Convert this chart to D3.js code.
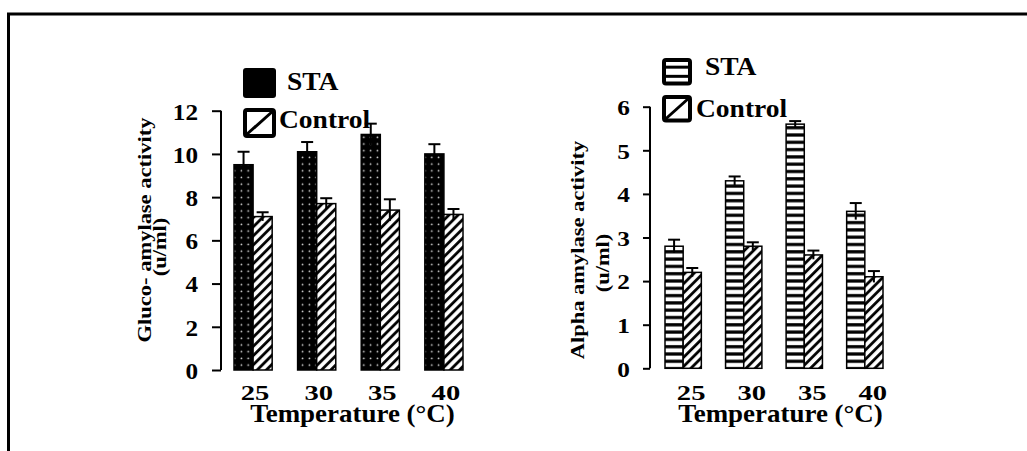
<!DOCTYPE html>
<html>
<head>
<meta charset="utf-8">
<script src="https://cdn.jsdelivr.net/npm/d3@7"></script>
<style>
  body { margin: 0; background: #fff; }
  text { font-family: "Liberation Serif", "Times New Roman", serif; font-weight: bold; fill: #000; }
</style>
</head>
<body>
<div id="figure"><svg></svg></div>
<script>
// Data
var temps = ["25", "30", "35", "40"];
var glucoSTA = [9.5, 10.1, 10.9, 10.0];
var glucoSTAErr = [0.6, 0.45, 0.5, 0.45];
var glucoControl = [7.1, 7.7, 7.4, 7.2];
var glucoControlErr = [0.2, 0.25, 0.5, 0.25];
var alphaSTA = [2.8, 4.3, 5.6, 3.6];
var alphaSTAErr = [0.15, 0.1, 0.07, 0.19];
var alphaControl = [2.2, 2.8, 2.6, 2.1];
var alphaControlErr = [0.1, 0.09, 0.1, 0.13];
var glucoTicks = [0, 2, 4, 6, 8, 10, 12];
var alphaTicks = [0, 1, 2, 3, 4, 5, 6];
var seriesNames = ["STA", "Control"];

var width = 1027;
var height = 451;
var svg = d3.select("#figure").select("svg").attr("width", width).attr("height", height);

/* ******** Patterns ******** */
var defs = svg.append("defs");
// black with white dots
var dots = defs.append("pattern").attr("id", "dots").attr("patternUnits", "userSpaceOnUse")
    .attr("width", 6.8).attr("height", 6.7);
dots.append("rect").attr("width", 6.8).attr("height", 6.7).attr("fill", "#000");
dots.append("circle").attr("cx", 3.4).attr("cy", 3.3).attr("r", 0.85).attr("fill", "#ddd");
// diagonal hatch "/"
var hatch = defs.append("pattern").attr("id", "hatch").attr("patternUnits", "userSpaceOnUse")
    .attr("width", 6.5).attr("height", 6.5).attr("patternTransform", "rotate(45)");
hatch.append("rect").attr("width", 6.5).attr("height", 6.5).attr("fill", "#fff");
hatch.append("line").attr("x1", 1.5).attr("y1", 0).attr("x2", 1.5).attr("y2", 6.5)
    .attr("stroke", "#000").attr("stroke-width", 2.8);
// horizontal stripes
var stripes = defs.append("pattern").attr("id", "stripes").attr("patternUnits", "userSpaceOnUse")
    .attr("width", 10).attr("height", 7.3);
stripes.append("rect").attr("width", 10).attr("height", 7.3).attr("fill", "#fff");
stripes.append("rect").attr("y", 2).attr("width", 10).attr("height", 3.2).attr("fill", "#000");

// frame
svg.append("path").attr("d", "M8.5," + height + "V14H" + width)
    .attr("fill", "none").attr("stroke", "#000").attr("stroke-width", 3);

/* ******** Charts ******** */
drawChart({
  sta: glucoSTA, staErr: glucoSTAErr, ctl: glucoControl, ctlErr: glucoControlErr,
  ticks: glucoTicks, axisX: 221, yTop: 110.7, y0: 370, xRange: [234, 463],
  tickLen: 9, tickPad: 23, tickSize: 24, tickSx: 1.05, labelShift: 2,
  staFill: "url(#dots)", titleX: 352.5,
  ylab: ["Gluco- amylase activity", "(u/ml)"], ylabX: [151, 166], ylabY: [230, 247],
  legend: {x: 243, staY: 68, ctlY: 108, w: 33, h: 30, staTx: 287, staTy: 90, ctlTx: 279, ctlTy: 128, staStyle: "solid"}
});
drawChart({
  sta: alphaSTA, staErr: alphaSTAErr, ctl: alphaControl, ctlErr: alphaControlErr,
  ticks: alphaTicks, axisX: 650, yTop: 106.7, y0: 368.3, xRange: [665, 883],
  tickLen: 7, tickPad: 20, tickSize: 22, tickSx: 1.15, labelShift: 8,
  staFill: "url(#stripes)", titleX: 780.5,
  ylab: ["Alpha amylase activity", "(u/ml)"], ylabX: [584, 609], ylabY: [250, 263],
  legend: {x: 662, staY: 58, ctlY: 95, w: 30, h: 27.5, staTx: 705, staTy: 75, ctlTx: 696, ctlTy: 117, staStyle: "stripes"}
});

function drawChart(c) {
  var g = svg.append("g");
  var y = d3.scaleLinear().domain([0, d3.max(c.ticks)]).range([c.y0, c.yTop]);
  var x = d3.scaleBand().domain(temps).range(c.xRange).paddingInner(0.4).paddingOuter(0);
  var sub = d3.scaleBand().domain(seriesNames).range([0, x.bandwidth()]);

  // y axis
  var ax = g.append("g").attr("transform", "translate(" + c.axisX + ",0)")
      .call(d3.axisLeft(y).tickValues(c.ticks).tickSize(c.tickLen).tickSizeOuter(0).tickFormat(d3.format("d")));
  ax.select(".domain").attr("stroke", "#000").attr("stroke-width", 2)
      .attr("d", "M0," + y(0) + "V" + y(d3.max(c.ticks)));
  ax.selectAll(".tick line").attr("stroke", "#000").attr("stroke-width", 2);
  ax.selectAll(".tick text")
      .attr("x", null).attr("dy", "0.35em")
      .attr("transform", "translate(" + (-c.tickPad) + ",0) scale(" + c.tickSx + ",1)")
      .style("font-size", c.tickSize + "px").attr("fill", "#000");

  // bars
  var rows = temps.map(function (t, i) {
    return [
      {t: t, s: "STA", v: c.sta[i], e: c.staErr[i], fill: c.staFill},
      {t: t, s: "Control", v: c.ctl[i], e: c.ctlErr[i], fill: "url(#hatch)"}
    ];
  });
  var bars = d3.merge(rows);
  g.selectAll(".bar").data(bars).enter().append("rect")
      .attr("class", "bar")
      .attr("x", function (d) { return x(d.t) + sub(d.s); })
      .attr("y", function (d) { return y(d.v); })
      .attr("width", sub.bandwidth())
      .attr("height", function (d) { return y(0) - y(d.v); })
      .attr("fill", function (d) { return d.fill; })
      .attr("stroke", "#000").attr("stroke-width", 1.5);

  // error bars
  var eb = g.selectAll(".err").data(bars).enter().append("g").attr("class", "err")
      .attr("stroke", "#000").attr("stroke-width", 2);
  eb.append("line")
      .attr("x1", function (d) { return x(d.t) + sub(d.s) + sub.bandwidth() / 2; })
      .attr("x2", function (d) { return x(d.t) + sub(d.s) + sub.bandwidth() / 2; })
      .attr("y1", function (d) { return y(d.v - d.e); })
      .attr("y2", function (d) { return y(d.v + d.e); });
  eb.append("line")
      .attr("x1", function (d) { return x(d.t) + sub(d.s) + sub.bandwidth() / 2 - 6; })
      .attr("x2", function (d) { return x(d.t) + sub(d.s) + sub.bandwidth() / 2 + 6; })
      .attr("y1", function (d) { return y(d.v + d.e); })
      .attr("y2", function (d) { return y(d.v + d.e); });

  // x labels
  temps.forEach(function (t) {
    addText(g, x(t) + x.bandwidth() / 2 + c.labelShift, 400, t, 22, 1.3, "middle");
  });
  addText(g, c.titleX, 422, "Temperature (\u00B0C)", 24.5, 1.1, "middle");

  // y label, two lines (glyphs squeezed a little across the line)
  addText(g, c.ylabX[0], c.ylabY[0], c.ylab[0], 22.5, 1, "middle", -90, 0.8);
  addText(g, c.ylabX[1], c.ylabY[1], c.ylab[1], 22.5, 1, "middle", -90, 0.8);

  // legend
  var L = c.legend;
  if (L.staStyle == "solid") {
    g.append("rect").attr("x", L.x).attr("y", L.staY).attr("width", L.w).attr("height", L.h)
        .attr("rx", 3).attr("fill", "#000");
  } else {
    legendBox(g, L.x, L.staY, L.w, L.h);
    [1 / 3, 2 / 3].forEach(function (f) {
      g.append("line").attr("x1", L.x).attr("x2", L.x + L.w)
          .attr("y1", L.staY + L.h * f).attr("y2", L.staY + L.h * f)
          .attr("stroke", "#000").attr("stroke-width", 3);
    });
  }
  legendBox(g, L.x, L.ctlY, L.w, L.h);
  g.append("line").attr("x1", L.x + 3).attr("y1", L.ctlY + L.h - 3)
      .attr("x2", L.x + L.w - 3).attr("y2", L.ctlY + 3)
      .attr("stroke", "#000").attr("stroke-width", 3);
  addText(g, L.staTx, L.staTy, "STA", 25, 1.1, "start");
  addText(g, L.ctlTx, L.ctlTy, "Control", 25, 1.1, "start");
}

/* ************** Helper functions **************** */
function legendBox(g, x, y, w, h) {
  g.append("rect").attr("x", x + 2).attr("y", y + 2).attr("width", w - 4).attr("height", h - 4)
      .attr("rx", 2).attr("fill", "#fff").attr("stroke", "#000").attr("stroke-width", 4);
}

function addText(g, x, y, str, size, sx, anchor, rot, sy) {
  var tr = "translate(" + x + "," + y + ")";
  if (rot) tr += " rotate(" + rot + ")";
  tr += " scale(" + sx + "," + (sy || 1) + ")";
  return g.append("text").attr("transform", tr).attr("text-anchor", anchor)
      .style("font-size", size + "px").text(str);
}
</script>
</body>
</html>
